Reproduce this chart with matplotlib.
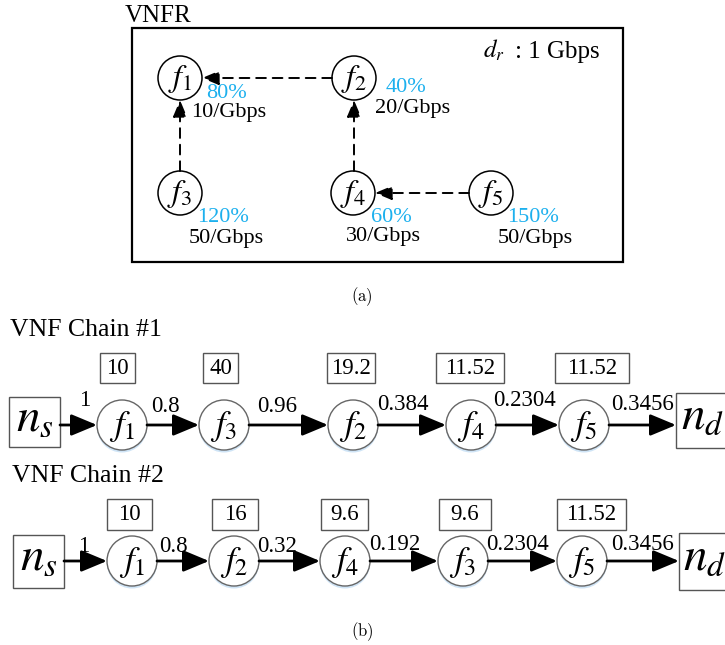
import matplotlib
matplotlib.use('Agg')
import matplotlib.pyplot as plt
from matplotlib.patches import Circle, Rectangle

plt.rcParams['font.family'] = ['Liberation Serif', 'DejaVu Serif']
plt.rcParams['mathtext.fontset'] = 'stix'

# (a) VNF request
vnf_ids = [1, 2, 3, 4, 5]
vnf_cpu = ['80%', '40%', '120%', '60%', '150%']
vnf_rate = ['10/Gbps', '20/Gbps', '50/Gbps', '30/Gbps', '50/Gbps']
vnf_links = [(2, 1), (3, 1), (4, 2), (5, 4)]

# (b) chains
chain1_order = [1, 3, 2, 4, 5]
chain1_loads = ['10', '40', '19.2', '11.52', '11.52']
chain1_flows = ['1', '0.8', '0.96', '0.384', '0.2304', '0.3456']
chain2_order = [1, 2, 4, 3, 5]
chain2_loads = ['10', '16', '9.6', '9.6', '11.52']
chain2_flows = ['1', '0.8', '0.32', '0.192', '0.2304', '0.3456']

cyan = '#1cb0ee'

fig = plt.figure(figsize=(7.25, 6.45), dpi=100)
ax = fig.add_axes([0, 0, 1, 1])
ax.set_xlim(0, 725)
ax.set_ylim(645, 0)
ax.axis('off')

# ---------- part (a) ----------
ax.text(125, 16, 'VNFR', fontsize=18, va='center', ha='left')
ax.add_patch(Rectangle((132, 28), 491, 234, fill=False, lw=1.6, ec='k'))
ax.text(483, 50, r'$d_r$', fontsize=18, va='center', ha='left')
ax.text(515, 52, ': 1 Gbps', fontsize=18, va='center', ha='left')

r_a = 22
pos_a = {1: (180, 78), 2: (354, 78), 3: (180, 193), 4: (353, 193), 5: (491, 193)}
cpu_xy = [(227, 93), (406, 88), (223, 217), (391, 217), (533, 217)]
rate_xy = [(229, 113), (413, 109), (226, 239), (383, 237), (535, 239)]

for i, k in enumerate(vnf_ids):
    x, y = pos_a[k]
    ax.add_patch(Circle((x, y), r_a, fill=True, fc='white', ec='k', lw=1.1, zorder=3))
    ax.text(x, y + 1, r'$f_{%d}$' % k, fontsize=23, ha='center', va='center', zorder=4)
    ax.text(cpu_xy[i][0], cpu_xy[i][1], vnf_cpu[i], color=cyan, fontsize=16,
            ha='center', va='center', zorder=5)
    ax.text(rate_xy[i][0], rate_xy[i][1], vnf_rate[i], fontsize=16,
            ha='center', va='center', zorder=5)

for src, dst in vnf_links:
    x0, y0 = pos_a[src]
    x1, y1 = pos_a[dst]
    if y0 == y1:
        start = (x0 - r_a, y0)
        end = (x1 + r_a, y1)
    else:
        start = (x1, y0 - r_a)
        end = (x1, y1 + r_a)
    ax.annotate('', xy=end, xytext=start,
                arrowprops=dict(arrowstyle='-|>,head_length=0.6,head_width=0.25',
                                color='k', lw=1.4, ls=(0, (5, 3.5)),
                                mutation_scale=17, shrinkA=0, shrinkB=0))

ax.text(362, 297, r'$\mathrm{(a)}$', math_fontfamily='cm', fontsize=12,
        ha='center', va='center')


# ---------- part (b) ----------
def draw_chain(row_y, order, loads, flows, circ_x, load_boxes,
               ns_box, nd_box, flow_x, flow_dy):
    r = 25
    box_y, box_h = load_boxes[0], load_boxes[1]
    # source / destination boxes
    for (bx0, bx1, by0, by1), lab in [(ns_box, r'$n_s$'), (nd_box, r'$n_d$')]:
        ax.add_patch(Rectangle((bx0, by0), bx1 - bx0, by1 - by0, fill=False,
                               ec='#555555', lw=1.0))
        ax.text((bx0 + bx1) / 2, (by0 + by1) / 2 - 3, lab, fontsize=34,
                ha='center', va='center')
    # vnf circles
    for j, k in enumerate(order):
        cx = circ_x[j]
        ax.add_patch(Circle((cx, row_y + 2.5), r, fc='#cfe4f6', ec='none', zorder=2))
        ax.add_patch(Circle((cx, row_y), r, fc='white', ec='#666666', lw=1.0, zorder=3))
        ax.text(cx, row_y + 1, r'$f_{%d}$' % k, fontsize=25, ha='center',
                va='center', zorder=4)
        bx0, bx1 = load_boxes[2][j]
        ax.add_patch(Rectangle((bx0, box_y), bx1 - bx0, box_h, fill=False,
                               ec='#555555', lw=1.0))
        ax.text((bx0 + bx1) / 2, box_y + box_h / 2, loads[j], fontsize=16.5,
                ha='center', va='center')
    # arrows
    starts = [ns_box[1]] + [c + r for c in circ_x]
    ends = [c - r for c in circ_x] + [nd_box[0]]
    for j in range(len(flows)):
        ax.annotate('', xy=(ends[j], row_y), xytext=(starts[j], row_y),
                    arrowprops=dict(arrowstyle='-|>,head_length=0.48,head_width=0.2',
                                    color='k', lw=2.0,
                                    mutation_scale=33, shrinkA=0, shrinkB=0))
        ax.text(flow_x[j], row_y + flow_dy[j], flows[j], fontsize=16.5,
                ha='center', va='center', zorder=5)


ax.text(10, 330, 'VNF Chain #1', fontsize=18.5, ha='left', va='center')
draw_chain(425, chain1_order, chain1_loads, chain1_flows,
           [122, 224, 353, 471, 584],
           (353, 30, [(100, 135), (203, 238), (327, 375), (436, 504), (555, 629)]),
           (9, 60, 397, 447), (676, 730, 393, 448),
           [85, 165, 277, 403, 525, 643], [-25, -18, -18, -20, -24, -20])

ax.text(12, 476, 'VNF Chain #2', fontsize=18.5, ha='left', va='center')
draw_chain(561, chain2_order, chain2_loads, chain2_flows,
           [132, 234, 345, 463, 582],
           (499, 31, [(107, 152), (212, 258), (321, 368), (439, 491), (557, 626)]),
           (13, 64, 535, 588), (679, 730, 533, 590),
           [84, 173, 277, 395, 518, 643], [-14, -14, -14, -17, -17, -17])

ax.text(362, 632, r'$\mathrm{(b)}$', math_fontfamily='cm', fontsize=12,
        ha='center', va='center')

fig.savefig('out.png', dpi=100)
